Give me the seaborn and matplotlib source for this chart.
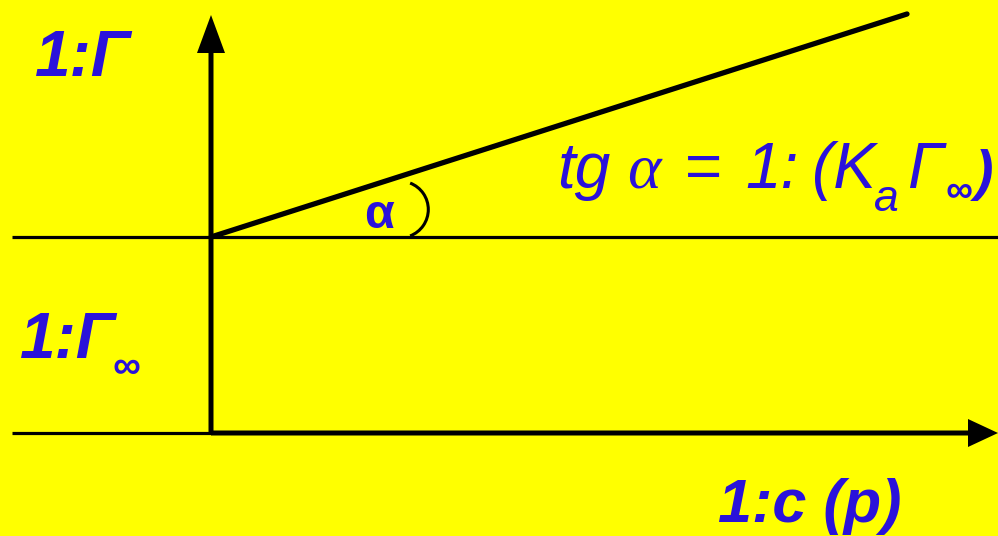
import matplotlib
matplotlib.use("Agg")
import matplotlib.pyplot as plt
from matplotlib.patches import Arc
import seaborn as sns
import pandas as pd

# Langmuir isotherm in reciprocal coordinates: 1/Γ versus 1/c (p)
inv_c = [0.0, 6.96]
inv_gamma = [1.96, 4.19]
inv_gamma_inf = 1.96

BG = "#FFFF00"
BLUE = "#2A12DA"
SANS = "Liberation Sans"
SERIF = "Liberation Serif"

sns.set_theme(style="white", rc={"axes.facecolor": BG, "figure.facecolor": BG})
plt.rcParams["font.family"] = [SANS, "DejaVu Sans"]

fig = plt.figure(figsize=(9.98, 5.36), dpi=100)
ax = fig.add_axes([0, 0, 1, 1])
ax.set_xlim(-2.11, 7.87)
ax.set_ylim(-1.03, 4.33)
ax.set_axis_off()

# axes drawn as arrows from the origin
x_left, x_right, y_top = -1.99, 7.87, 4.18
ax.hlines(0.0, x_left, 0.0, color="black", lw=2.3)
ax.arrow(0, 0, x_right, 0, width=0.05, head_width=0.28, head_length=0.30,
         length_includes_head=True, fc="black", ec="none")
ax.arrow(0, 0, 0, y_top, width=0.05, head_width=0.28, head_length=0.38,
         length_includes_head=True, fc="black", ec="none")

# limiting level 1/Γ∞
ax.hlines(inv_gamma_inf, x_left, x_right, color="black", lw=2.3)

# the straight line 1/Γ = 1/Γ∞ + (1/(K_a Γ∞))·(1/c)
df = pd.DataFrame({"inv_c": inv_c, "inv_gamma": inv_gamma})
sns.lineplot(data=df, x="inv_c", y="inv_gamma", ax=ax, color="black", lw=3.8,
             legend=False)

# angle mark
ax.add_patch(Arc((1.89, 2.235), 0.566, 0.566, theta1=-69, theta2=69,
                 color="black", lw=2.2))
ax.text(1.53, 2.05, "α", color=BLUE, fontsize=35, fontweight="bold",
        ha="left", va="baseline")

# axis captions
ax.text(-1.76, 3.57, "1:Γ", color=BLUE, fontsize=46, fontweight="bold",
        fontstyle="italic", ha="left", va="baseline")
ax.text(-1.91, 0.75, "1:Γ", color=BLUE, fontsize=46, fontweight="bold",
        fontstyle="italic", ha="left", va="baseline")
ax.text(-0.99, 0.55, "∞", color=BLUE, fontsize=28, fontweight="bold",
        fontstyle="italic", ha="left", va="baseline")
ax.text(5.07, -0.89, "1:c (p)", color=BLUE, fontsize=44, fontweight="bold",
        fontstyle="italic", ha="left", va="baseline")

# slope formula
base = 2.45
kw = dict(color=BLUE, ha="left", va="baseline")
ax.text(3.46, base, "tg", fontsize=46, fontstyle="italic", **kw)
ax.text(4.16, base, "α", fontsize=46, fontstyle="italic", family=SERIF, **kw)
ax.text(4.73, base, "=", fontsize=46, fontstyle="italic", **kw)
ax.text(5.34, base, "1:", fontsize=46, fontstyle="italic", **kw)
ax.text(6.01, base, "(K", fontsize=46, fontstyle="italic", **kw)
ax.text(6.63, 2.22, "a", fontsize=32, fontstyle="italic", **kw)
ax.text(6.96, base, "Γ", fontsize=46, fontstyle="italic", **kw)
ax.text(7.35, 2.31, "∞", fontsize=27, fontweight="bold", fontstyle="italic", **kw)
ax.text(7.64, 2.44, ")", fontsize=40, fontweight="bold", fontstyle="italic", **kw)

fig.savefig("out.png", dpi=100, facecolor=BG)
